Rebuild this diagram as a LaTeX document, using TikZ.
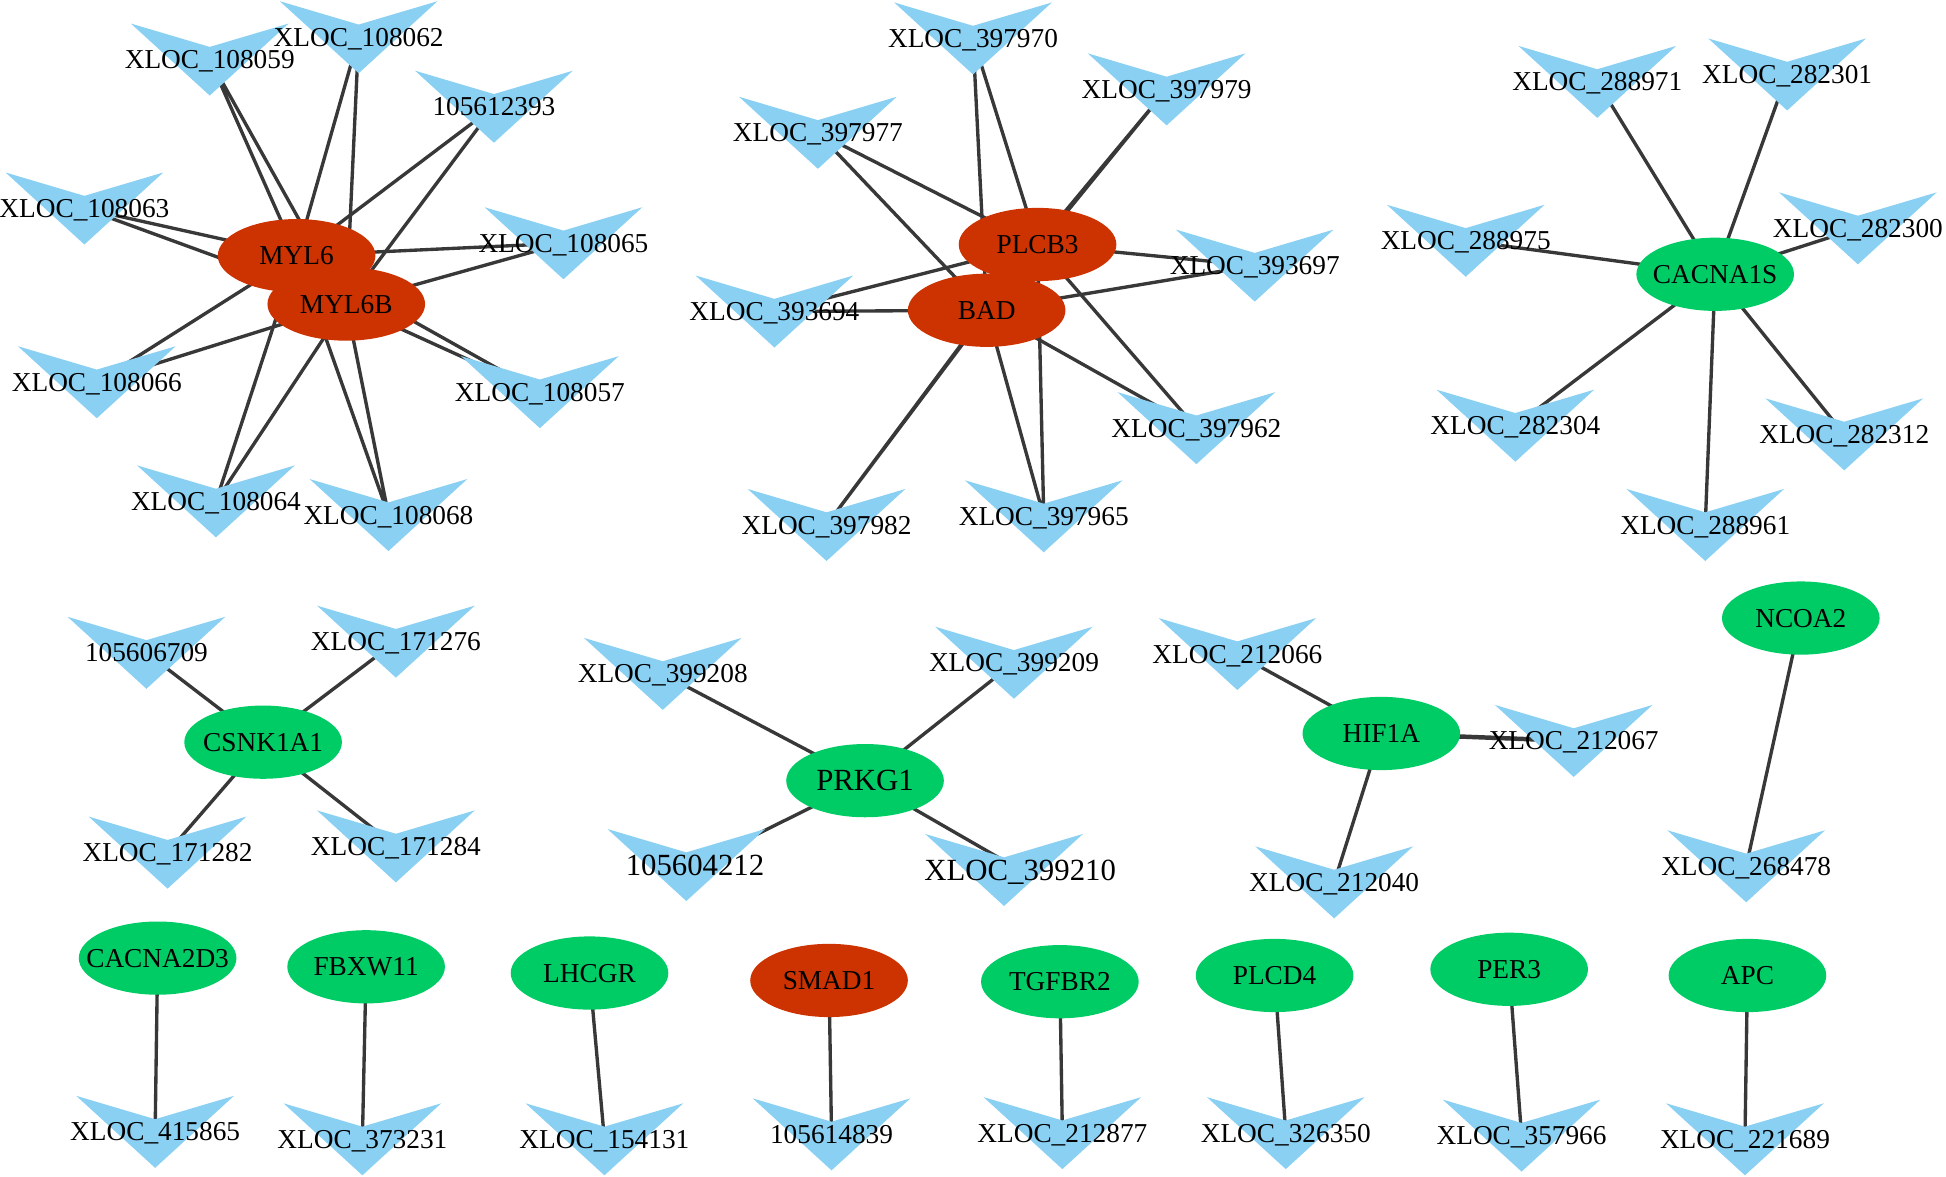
\documentclass[tikz,border=0pt]{standalone}
\usepackage{fontspec}
\setmainfont{Liberation Serif}
\usetikzlibrary{shapes.geometric,backgrounds}
\definecolor{veeblue}{RGB}{137,208,243}
\definecolor{upred}{RGB}{204,51,0}
\definecolor{downgreen}{RGB}{0,204,102}
\definecolor{edgegray}{RGB}{56,56,56}
\makeatletter
\newdimen\veecx \newdimen\veecy
\def\veedx{0pt}
\pgfdeclareshape{vee}{
  \inheritsavedanchors[from=rectangle]
  \inheritanchorborder[from=rectangle]
  \inheritanchor[from=rectangle]{center}
  \inheritanchor[from=rectangle]{north}
  \inheritanchor[from=rectangle]{south}
  \inheritanchor[from=rectangle]{east}
  \inheritanchor[from=rectangle]{west}
  \backgroundpath{%
    \southwest \veecx=.5\pgf@x \veecy=.5\pgf@y
    \northeast \advance\veecx by .5\pgf@x \advance\veecy by .5\pgf@y
    \advance\veecx by \veedx\relax
    \pgfpathmoveto{\pgfqpoint{\dimexpr\veecx-63.5pt\relax}{\dimexpr\veecy+29pt\relax}}%
    \pgfpathlineto{\pgfqpoint{\veecx}{\dimexpr\veecy+10.2pt\relax}}%
    \pgfpathlineto{\pgfqpoint{\dimexpr\veecx+63.5pt\relax}{\dimexpr\veecy+29pt\relax}}%
    \pgfpathlineto{\pgfqpoint{\veecx}{\dimexpr\veecy-29pt\relax}}%
    \pgfpathclose
  }
}
\makeatother
\newcommand\gn[1]{\makebox[0pt]{#1}}
\tikzset{
  vee dx/.code={\def\veedx{#1}},
  gene/.style={ellipse, minimum width=127pt, minimum height=59pt, inner sep=0pt,
    text height=14.6pt, text depth=0pt, font=\fontsize{22}{26}\selectfont},
  upg/.style={gene, fill=upred},
  dng/.style={gene, fill=downgreen},
  lnc/.style={shape=vee, fill=veeblue, inner sep=0pt, text height=14.6pt, text depth=0pt,
    font=\fontsize{22}{26}\selectfont},
  big/.style={text height=16.4pt, font=\fontsize{24.8}{29}\selectfont},
  link/.style={draw=edgegray, line width=2.7pt},
}
\begin{document}
\begin{tikzpicture}[x=1pt,y=-1pt]
\useasboundingbox (0,0) rectangle (1568,948);
\begin{pgfonlayer}{background}
\fill[white] (0,0) rectangle (1568,948);
\end{pgfonlayer}
% ---------- cluster MYL6 / MYL6B
\node[upg] (myl6) at (239,206) {\gn{MYL6}};
\node[upg] (myl6b) at (279,245) {\gn{MYL6B}};
\node[lnc] (v108059) at (169,48) {XLOC\_108059};
\node[lnc] (v108062) at (289,30) {XLOC\_108062};
\node[lnc] (v105612393) at (398,86) {105612393};
\node[lnc] (v108063) at (68,168) {XLOC\_108063};
\node[lnc] (v108065) at (454,196) {XLOC\_108065};
\node[lnc] (v108066) at (78,308) {XLOC\_108066};
\node[lnc] (v108057) at (435,316) {XLOC\_108057};
\node[lnc] (v108064) at (174,404) {XLOC\_108064};
\node[lnc] (v108068) at (313,415) {XLOC\_108068};
% ---------- cluster PLCB3 / BAD
\node[upg] (plcb3) at (836,197) {\gn{PLCB3}};
\node[upg] (bad) at (795,250) {\gn{BAD}};
\node[lnc] (v397970) at (784,31) {XLOC\_397970};
\node[lnc] (v397979) at (940,72) {XLOC\_397979};
\node[lnc] (v397977) at (659,107) {XLOC\_397977};
\node[lnc] (v393697) at (1011,214) {XLOC\_393697};
\node[lnc] (v393694) at (624,251) {XLOC\_393694};
\node[lnc] (v397962) at (964,345) {XLOC\_397962};
\node[lnc] (v397982) at (666,423) {XLOC\_397982};
\node[lnc] (v397965) at (841,416) {XLOC\_397965};
% ---------- cluster CACNA1S
\node[dng] (cacna1s) at (1382,221) {\gn{CACNA1S}};
\node[lnc] (v288971) at (1287,66) {XLOC\_288971};
\node[lnc] (v282301) at (1440,60) {XLOC\_282301};
\node[lnc] (v288975) at (1181,194) {XLOC\_288975};
\node[lnc] (v282300) at (1497,184) {XLOC\_282300};
\node[lnc] (v282304) at (1221,343) {XLOC\_282304};
\node[lnc] (v282312) at (1486,350) {XLOC\_282312};
\node[lnc] (v288961) at (1374,423) {XLOC\_288961};
% ---------- cluster CSNK1A1
\node[dng] (csnk1a1) at (212,598) {\gn{CSNK1A1}};
\node[lnc] (v105606709) at (118,526) {105606709};
\node[lnc] (v171276) at (319,517) {XLOC\_171276};
\node[lnc] (v171282) at (135,687) {XLOC\_171282};
\node[lnc] (v171284) at (319,682) {XLOC\_171284};
% ---------- cluster PRKG1
\node[dng, big] (prkg1) at (697,629) {\gn{PRKG1}};
\node[lnc] (v399208) at (534,543) {XLOC\_399208};
\node[lnc] (v399209) at (817,534) {XLOC\_399209};
\node[lnc, big, vee dx=-7pt] (v105604212) at (560,697) {105604212};
\node[lnc, big, vee dx=-13pt] (v399210) at (822,701) {XLOC\_399210};
% ---------- cluster HIF1A
\node[dng] (hif1a) at (1113,591) {\gn{HIF1A}};
\node[lnc] (v212066) at (997,527) {XLOC\_212066};
\node[lnc] (v212067) at (1268,597) {XLOC\_212067};
\node[lnc] (v212040) at (1075,711) {XLOC\_212040};
% ---------- NCOA2
\node[dng] (ncoa2) at (1451,498) {\gn{NCOA2}};
\node[lnc] (v268478) at (1407,698) {XLOC\_268478};
% ---------- bottom row
\node[dng] (cacna2d3) at (127,772) {\gn{CACNA2D3}};
\node[lnc] (v415865) at (125,912) {XLOC\_415865};
\node[dng] (fbxw11) at (295,779) {\gn{FBXW11}};
\node[lnc] (v373231) at (292,918) {XLOC\_373231};
\node[dng] (lhcgr) at (475,784) {\gn{LHCGR}};
\node[lnc] (v154131) at (487,918) {XLOC\_154131};
\node[upg] (smad1) at (668,790) {\gn{SMAD1}};
\node[lnc] (v105614839) at (670,914) {105614839};
\node[dng] (tgfbr2) at (854,791) {\gn{TGFBR2}};
\node[lnc] (v212877) at (856,913) {XLOC\_212877};
\node[dng] (plcd4) at (1027,786) {\gn{PLCD4}};
\node[lnc] (v326350) at (1036,913) {XLOC\_326350};
\node[dng] (per3) at (1216,781) {\gn{PER3}};
\node[lnc] (v357966) at (1226,915) {XLOC\_357966};
\node[dng] (apc) at (1408,786) {\gn{APC}};
\node[lnc] (v221689) at (1406,918) {XLOC\_221689};
% ---------- edges
\begin{pgfonlayer}{background}
\foreach \v in {v108059,v108062,v105612393,v108063,v108065,v108066,v108057,v108064,v108068}
  {\draw[link] (\v.center) -- (myl6.center) (\v.center) -- (myl6b.center);}
\foreach \v in {v397970,v397979,v397977,v393697,v393694,v397962,v397982,v397965}
  {\draw[link] (\v.center) -- (plcb3.center) (\v.center) -- (bad.center);}
\foreach \v in {v288971,v282301,v288975,v282300,v282304,v282312,v288961}
  {\draw[link] (\v.center) -- (cacna1s.center);}
\foreach \v in {v105606709,v171276,v171282,v171284}
  {\draw[link] (\v.center) -- (csnk1a1.center);}
\foreach \v in {v399208,v399209,v105604212,v399210}
  {\draw[link] (\v.center) -- (prkg1.center);}
\foreach \v in {v212066,v212040}
  {\draw[link] (\v.center) -- (hif1a.center);}
\draw[link, line width=3.6pt] (v212067.center) -- (hif1a.center);
\draw[link] (ncoa2.center) -- (v268478.center);
\draw[link] (cacna2d3.center) -- (v415865.center);
\draw[link] (fbxw11.center) -- (v373231.center);
\draw[link] (lhcgr.center) -- (v154131.center);
\draw[link] (smad1.center) -- (v105614839.center);
\draw[link] (tgfbr2.center) -- (v212877.center);
\draw[link] (plcd4.center) -- (v326350.center);
\draw[link] (per3.center) -- (v357966.center);
\draw[link] (apc.center) -- (v221689.center);
\end{pgfonlayer}
\end{tikzpicture}
\end{document}
